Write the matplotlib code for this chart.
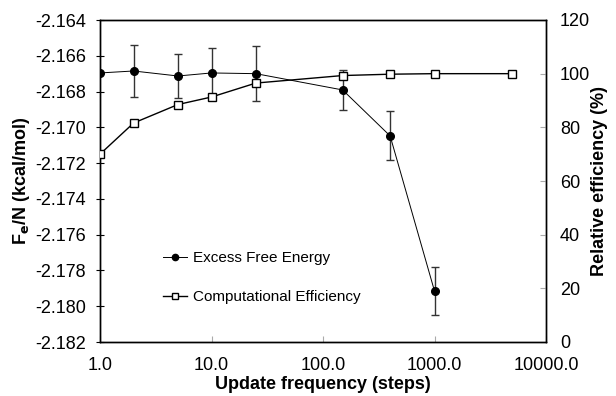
import matplotlib
matplotlib.use("Agg")
import matplotlib.pyplot as plt
from matplotlib.ticker import FuncFormatter, FixedLocator
from matplotlib.lines import Line2D

plt.rcParams['font.family'] = ['Liberation Sans', 'DejaVu Sans']
plt.rcParams['axes.unicode_minus'] = False

freq_fe = [1, 2, 5, 10, 25, 150, 400, 1000]
fe = [-2.16696, -2.16685, -2.16713, -2.16696, -2.16700, -2.16791, -2.17048, -2.17915]
fe_err = [0.0, 0.00143, 0.00125, 0.00140, 0.00155, 0.00110, 0.00137, 0.00132]

freq_eff = [1, 2, 5, 10, 25, 150, 400, 1000, 5000]
eff = [70.0, 81.6, 88.5, 91.3, 96.5, 99.3, 99.8, 100.0, 100.0]

xticks = [1, 10, 100, 1000, 10000]
yticks_left = [-2.164, -2.166, -2.168, -2.170, -2.172, -2.174, -2.176, -2.178, -2.180, -2.182]
yticks_right = [0, 20, 40, 60, 80, 100, 120]

fig = plt.figure(figsize=(6.16, 3.96), dpi=100)
ax = fig.add_axes([100/616, 1-342/396, 446/616, 322/396])
ax2 = ax.twinx()

ax.set_xscale('log')
ax.set_xlim(1, 10000)
ax.set_ylim(-2.182, -2.164)
ax2.set_ylim(0, 120)

ax.errorbar(freq_fe, fe, yerr=fe_err, fmt='-o', color='black', ecolor='#333333',
            elinewidth=1.0, capsize=3, capthick=1.0, lw=0.7, ms=5.5, zorder=3)
ax2.plot(freq_eff, eff, '-s', color='black', lw=1.0, ms=5.5, mfc='white', mew=1.0,
         zorder=3)

ax.xaxis.set_major_locator(FixedLocator(xticks))
ax.xaxis.set_minor_locator(FixedLocator([]))
ax.xaxis.set_major_formatter(FuncFormatter(lambda v, p: f"{v:.1f}"))
ax.set_yticks(yticks_left)
ax.yaxis.set_major_formatter(FuncFormatter(lambda v, p: f"{v:.3f}"))
ax2.set_yticks(yticks_right)

ax.tick_params(axis='x', direction='in', length=4, color='#aaaaaa', labelsize=13, pad=11)
ax.tick_params(axis='y', direction='inout', length=6, labelsize=13, pad=7)
ax2.tick_params(axis='y', direction='in', length=4, color='#aaaaaa', labelsize=13, pad=10)

for a in (ax, ax2):
    for s in a.spines.values():
        s.set_linewidth(1.0)

ax.set_xlabel('Update frequency (steps)', fontsize=13, fontweight='bold', labelpad=1)
ax.set_ylabel(r'F$_\mathbf{e}$/N (kcal/mol)', fontsize=13, fontweight='bold', labelpad=2)
fig.text(599/616, 1 - 181/396, 'Relative efficiency (%)', rotation=90, ha='center',
         va='center', fontsize=13, fontweight='bold')

handles = [Line2D([], [], color='black', lw=0.7, marker='o', ms=4.5),
           Line2D([], [], color='black', lw=1.0, marker='s', ms=4.5, mfc='white', mew=1.0)]
labels = ['Excess Free Energy', 'Computational Efficiency']
ax2.legend(handles, labels, loc='upper left', bbox_to_anchor=(0.11, 0.325),
           frameon=False, fontsize=11, handlelength=1.6, handletextpad=0.35,
           labelspacing=1.65)

fig.savefig('out.png', dpi=100)
